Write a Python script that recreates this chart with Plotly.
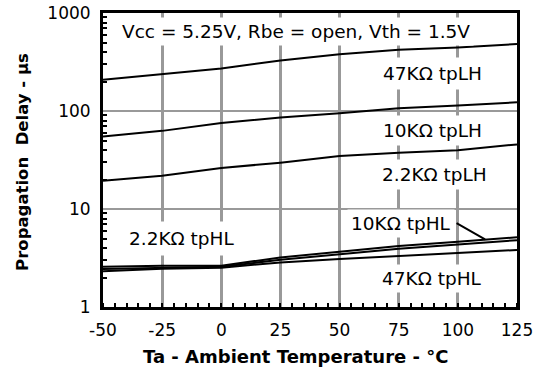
import plotly.graph_objects as go

temps = [-50, -25, 0, 25, 50, 75, 100, 125]

tplh_47k = [208, 238, 271, 328, 379, 421, 444, 482]
tplh_10k = [55, 62.7, 75.5, 85.7, 94.8, 106.5, 113.5, 122.5]
tplh_2k2 = [19.4, 21.8, 26.2, 29.7, 34.7, 37.5, 39.7, 45.6]
tphl_2k2 = [2.58, 2.64, 2.64, 3.2, 3.67, 4.19, 4.62, 5.15]
tphl_10k = [2.44, 2.52, 2.58, 3.03, 3.46, 3.93, 4.35, 4.81]
tphl_47k = [2.31, 2.46, 2.52, 2.85, 3.08, 3.32, 3.54, 3.82]

x_ticks = [-50, -25, 0, 25, 50, 75, 100, 125]
x_ticktext = ["-50", "-25", "0", "25", "50", "75", "100", "125"]
y_ticks = [1, 10, 100, 1000]
y_ticktext = ["1", "10", "100", "1000"]
y_minor = [m * d for d in (1, 10, 100) for m in range(2, 10)]

FONT = "DejaVu Sans"

fig = go.Figure()
for ys in [tplh_47k, tplh_10k, tplh_2k2, tphl_2k2, tphl_10k, tphl_47k]:
    fig.add_trace(go.Scatter(x=temps, y=ys, mode="lines",
                             line=dict(color="black", width=2),
                             showlegend=False, hoverinfo="skip"))

labels = [
    ("Vcc = 5.25V, Rbe = open, Vth = 1.5V", 31.4, 2.816, 3),
    ("47KΩ tpLH", 89.1, 2.378, 5),
    ("10KΩ tpLH", 89.3, 1.801, 4),
    ("2.2KΩ tpLH", 90.3, 1.357, 4),
    ("2.2KΩ tpHL", -16.7, 0.697, 6),
    ("10KΩ tpHL", 75.9, 0.854, 3),
    ("47KΩ tpHL", 89.1, 0.286, 3),
]
annotations = []
for text, xv, ly, pad in labels:
    annotations.append(dict(x=xv, y=ly, xref="x", yref="y", text=text,
                            showarrow=False, bgcolor="white", borderpad=pad,
                            font=dict(family=FONT, size=18.5, color="black"),
                            xanchor="center", yanchor="middle"))
# leader line for 10K tpHL
annotations.append(dict(x=111.5, y=0.69, xref="x", yref="y", text="",
                        showarrow=True, arrowhead=0, arrowwidth=2,
                        arrowcolor="black", ax=-30, ay=-17))
# axis titles
annotations.append(dict(x=0.466, y=-0.167, xref="paper", yref="paper",
                        text="<b>Ta - Ambient Temperature - °C</b>",
                        showarrow=False, xanchor="center", yanchor="middle",
                        font=dict(family=FONT, size=18, color="black")))
annotations.append(dict(x=-0.196, y=0.493, xref="paper", yref="paper",
                        text="<b>Propagation  Delay - µs</b>", textangle=-90,
                        showarrow=False, xanchor="center", yanchor="middle",
                        font=dict(family=FONT, size=16.5, color="black")))

fig.update_layout(
    width=550, height=374,
    margin=dict(l=103, r=33, t=13, b=67),
    paper_bgcolor="white", plot_bgcolor="white",
    annotations=annotations,
    font=dict(family=FONT, color="black"),
)
fig.update_xaxes(
    range=[-50, 125], tickvals=x_ticks, ticktext=x_ticktext, ticks="",
    tickfont=dict(family=FONT, size=17, color="black"),
    ticklabelstandoff=6, ticklabeloverflow="allow", automargin=False,
    showgrid=True, gridcolor="#999999", gridwidth=3,
    showline=True, linecolor="black", linewidth=3, mirror=True,
    zeroline=False,
    minor=dict(ticks="inside", dtick=5, ticklen=4, tickwidth=2,
               tickcolor="black", showgrid=False),
)
fig.update_yaxes(
    type="log", range=[0, 3], tickvals=y_ticks, ticktext=y_ticktext, ticks="",
    tickfont=dict(family=FONT, size=17, color="black"),
    ticklabelstandoff=6, ticklabeloverflow="allow", automargin=False,
    showgrid=True, gridcolor="#999999", gridwidth=2,
    showline=True, linecolor="black", linewidth=3, mirror=True,
    zeroline=False,
    minor=dict(ticks="inside", tickvals=y_minor, ticklen=4, tickwidth=2,
               tickcolor="black", showgrid=False),
)
fig.write_html("out.html", config={"displayModeBar": False},
               post_script="document.body.style.margin='0px';document.body.style.overflow='hidden';")
